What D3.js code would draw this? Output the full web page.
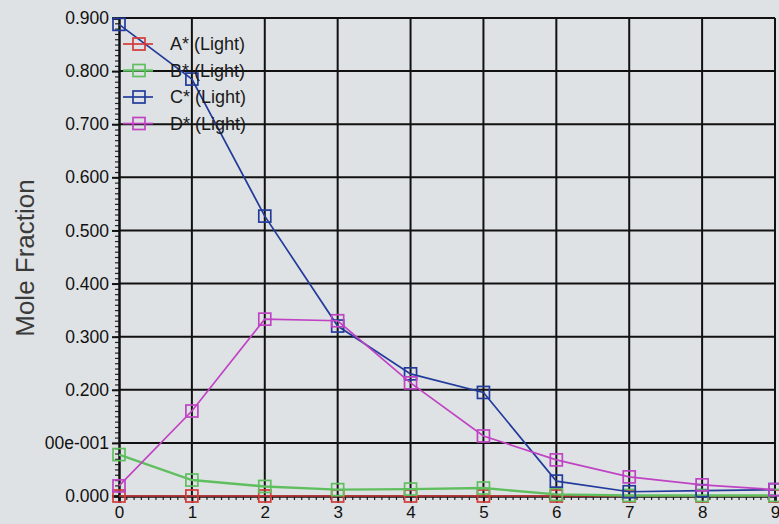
<!DOCTYPE html>
<html>
<head>
<meta charset="utf-8">
<script src="https://cdn.jsdelivr.net/npm/d3@7"></script>
<style>
  html, body { margin: 0; padding: 0; background: #dfe2e4; }
  svg { display: block; font-family: "Liberation Sans", Arial, sans-serif; }
</style>
</head>
<body>
<div id="chart"></div>
<script>
// stage numbers along the x axis
const stages = [0, 1, 2, 3, 4, 5, 6, 7, 8, 9];

// mole fraction per stage
const seriesA = [0.000, 0.000, 0.000, 0.000, 0.000, 0.000, 0.000, 0.000, 0.000, 0.000];
const seriesB = [0.078, 0.030, 0.018, 0.012, 0.013, 0.015, 0.003, 0.001, 0.001, 0.001];
const seriesC = [0.888, 0.785, 0.527, 0.320, 0.230, 0.195, 0.028, 0.008, 0.010, 0.012];
const seriesD = [0.019, 0.160, 0.333, 0.330, 0.213, 0.113, 0.068, 0.036, 0.021, 0.012];

const seriesNames = ['A* (Light)', 'B* (Light)', 'C* (Light)', 'D* (Light)'];
const seriesColors = ['#d23a3a', '#5fbf5f', '#233c9c', '#c043c4'];

const yTickValues = [0, 0.1, 0.2, 0.3, 0.4, 0.5, 0.6, 0.7, 0.8, 0.9];
// the second label is clipped in the original ("1.000e-001")
const yTickLabels = ['0.000', '00e-001', '0.200', '0.300', '0.400', '0.500', '0.600', '0.700', '0.800', '0.900'];

const width = 779, height = 524;
const margin = { top: 18, right: 4, bottom: 28, left: 119 };

const svg = d3.select('#chart')
    .append('svg')
    .attr('width', width)
    .attr('height', height);

svg.append('rect')
    .attr('width', width)
    .attr('height', height)
    .attr('fill', '#dfe2e4');

const x = d3.scaleLinear()
    .domain([0, 9])
    .range([margin.left, width - margin.right]);

const y = d3.scaleLinear()
    .domain([0, 0.9])
    .range([height - margin.bottom, margin.top]);

// grid
const grid = svg.append('g').attr('stroke', '#111').attr('stroke-width', 2);
grid.selectAll('line.v')
    .data(stages.slice(1))
    .enter()
    .append('line')
    .attr('x1', d => x(d)).attr('x2', d => x(d))
    .attr('y1', y(0.9)).attr('y2', y(0));
grid.selectAll('line.h')
    .data(yTickValues.slice(1))
    .enter()
    .append('line')
    .attr('x1', x(0)).attr('x2', x(9))
    .attr('y1', d => y(d)).attr('y2', d => y(d));

// axes with minor ticks
const yMinor = d3.range(0, 0.9001, 0.01);
svg.append('g')
    .attr('transform', `translate(${x(0)},0)`)
    .call(d3.axisLeft(y).tickValues(yMinor).tickSize(4).tickFormat(''))
    .call(g => g.select('.domain').remove())
    .call(g => g.selectAll('line').attr('stroke', '#222').attr('stroke-width', 1.2));

svg.append('g')
    .attr('transform', `translate(${x(0)},0)`)
    .call(d3.axisLeft(y).tickValues(yTickValues).tickSize(7).tickPadding(3)
        .tickFormat((d, i) => yTickLabels[i]))
    .call(g => g.select('.domain').attr('stroke', '#111').attr('stroke-width', 2.5))
    .call(g => g.selectAll('line').attr('stroke', '#111').attr('stroke-width', 2))
    .call(g => g.selectAll('text')
        .attr('fill', '#111')
        .attr('font-size', 17.5)
        .attr('font-family', '"Liberation Sans", Arial, sans-serif'));

const xMinor = d3.range(0, 9.001, 0.1);
svg.append('g')
    .attr('transform', `translate(0,${y(0)})`)
    .call(d3.axisBottom(x).tickValues(xMinor).tickSize(4).tickFormat(''))
    .call(g => g.select('.domain').remove())
    .call(g => g.selectAll('line').attr('stroke', '#222').attr('stroke-width', 1.2));

svg.append('g')
    .attr('transform', `translate(0,${y(0)})`)
    .call(d3.axisBottom(x).tickValues(stages).tickSize(7).tickPadding(3).tickFormat(d3.format('d')))
    .call(g => g.select('.domain').attr('stroke', '#111').attr('stroke-width', 2.5))
    .call(g => g.selectAll('line').attr('stroke', '#111').attr('stroke-width', 2))
    .call(g => g.selectAll('text')
        .attr('fill', '#111')
        .attr('font-size', 17)
        .attr('font-family', '"Liberation Sans", Arial, sans-serif'));

// y axis title
svg.append('text')
    .attr('transform', `translate(34,258) rotate(-90)`)
    .attr('text-anchor', 'middle')
    .attr('font-size', 26)
    .attr('fill', '#3a3a3a')
    .text('Mole Fraction');

// series
const allSeries = [seriesA, seriesB, seriesC, seriesD];
const line = d3.line()
    .x((d, i) => x(stages[i]))
    .y(d => y(d));

const sq = 12;
allSeries.forEach((values, k) => {
    const g = svg.append('g');
    g.append('path')
        .datum(values)
        .attr('d', line)
        .attr('fill', 'none')
        .attr('stroke', seriesColors[k])
        .attr('stroke-width', k === 1 ? 2.4 : 1.7);
    g.selectAll('rect')
        .data(values)
        .enter()
        .append('rect')
        .attr('x', (d, i) => x(stages[i]) - sq / 2)
        .attr('y', d => y(d) - sq / 2)
        .attr('width', sq)
        .attr('height', sq)
        .attr('fill', 'none')
        .attr('stroke', seriesColors[k])
        .attr('stroke-width', 1.7);
});

// legend
const legend = svg.append('g');
seriesNames.forEach((name, k) => {
    const ly = 44 + k * 26.5;
    legend.append('line')
        .attr('x1', 123).attr('x2', 153)
        .attr('y1', ly).attr('y2', ly)
        .attr('stroke', seriesColors[k])
        .attr('stroke-width', k === 1 ? 2.4 : 1.7);
    legend.append('rect')
        .attr('x', 139 - sq / 2).attr('y', ly - sq / 2)
        .attr('width', sq).attr('height', sq)
        .attr('fill', 'none')
        .attr('stroke', seriesColors[k])
        .attr('stroke-width', 1.7);
    legend.append('text')
        .attr('x', 170).attr('y', ly + 6)
        .attr('font-size', 18)
        .attr('fill', '#1a1a1a')
        .text(name);
});
</script>
</body>
</html>
